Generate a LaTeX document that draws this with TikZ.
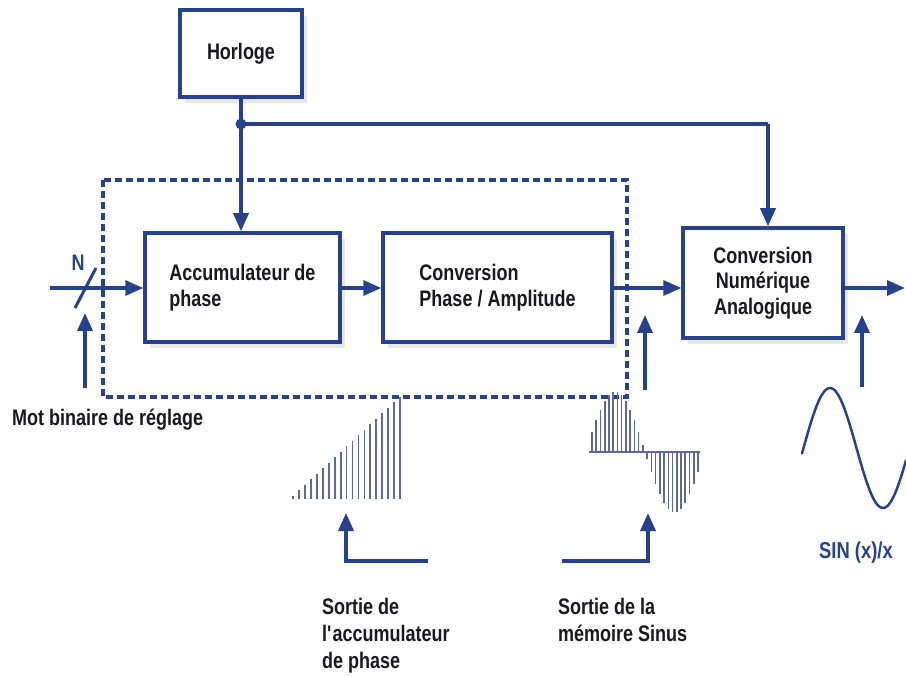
\documentclass[tikz,border=0pt]{standalone}
\usepackage{fontspec}
\setmainfont{Liberation Sans}[FakeStretch=0.8]
\usetikzlibrary{arrows.meta,shadows}
\definecolor{dblue}{RGB}{38,66,140}
\definecolor{stemc}{RGB}{95,105,150}
\definecolor{txt}{RGB}{25,25,30}
\begin{document}
\begin{tikzpicture}[x=1pt,y=-1pt,
  box/.style={draw=dblue,line width=3.5pt,fill=white,inner sep=0pt,
    font=\bfseries\fontsize{22.5}{25.5}\selectfont,text=txt,
    drop shadow={opacity=0.18,shadow xshift=5pt,shadow yshift=-6pt}},
  conn/.style={draw=dblue,line width=3.5pt,-{Triangle[length=18pt,width=15pt]}},
  plain/.style={draw=dblue,line width=3.5pt},
  lbl/.style={font=\bfseries\fontsize{22.5}{27}\selectfont,text=txt,align=left,inner sep=0pt},
  stembar/.style={draw=stemc,line width=1.8pt}]
\useasboundingbox (0,0) rectangle (906,676);
% dashed frame
\draw[dblue,line width=4pt,dash pattern=on 7pt off 4pt] (103,180) rectangle (627,397);
% boxes
\node[box,minimum width=122pt,minimum height=87pt] (hor) at (241,53.5) {Horloge};
\node[box,minimum width=195pt,minimum height=109pt,align=left] (acc) at (242.5,287.5) {Accumulateur de\\phase};
\node[box,minimum width=229pt,minimum height=109pt,align=left] (cpa) at (497.5,287.5) {Conversion\\Phase / Amplitude};
\node[box,minimum width=160pt,minimum height=110pt,align=center] (cna) at (763,283) {Conversion\\Numérique\\Analogique};
% clock distribution
\coordinate (j) at (241,124);
\coordinate (k) at ([xshift=5pt]cna.north);
\draw[conn] (hor.south) -- (hor.south |- acc.north);
\draw[plain] (j) -- (j -| k);
\draw[conn] (j -| k) -- (k);
\fill[dblue] (j) circle (5.5pt);
% data path
\coordinate (in) at (50,288);
\draw[conn] (in) -- (acc.west |- in);
\draw[conn] (acc.east |- in) -- (cpa.west |- in);
\draw[conn] (cpa.east |- in) -- (cna.west |- in);
\coordinate (out) at (905,288);
\draw[conn] (cna.east |- in) -- (out);
% bus slash and N
\coordinate (s1) at (75,308);
\coordinate (s2) at (96,268);
\draw[dblue,line width=3pt] (s1) -- (s2);
\node[font=\bfseries\fontsize{22.5}{26}\selectfont,text=dblue] (n) at (78,263) {N};
% upward arrows
\coordinate (m0) at (85,388); \coordinate (m1) at (85,313);
\draw[conn] (m0) -- (m1);
\node[lbl,anchor=base west] (mot) at (12,426) {Mot binaire de réglage};
\coordinate (p0) at (645,390); \coordinate (p1) at (645,315);
\draw[conn] (p0) -- (p1);
\coordinate (q0) at (862,387); \coordinate (q1) at (862,315);
\draw[conn] (q0) -- (q1);
% ramp samples
\foreach \i in {0,...,18}
  \draw[stembar] ({293+5.95*\i},499) -- ({293+5.95*\i},{499-108*(\i+0.6)/19.6});
% sine samples
\draw[stemc,line width=1.4pt] (589,452) -- (700,452);
\foreach \i in {0,...,25}
  \draw[stembar,line width=1.6pt] ({592+4.24*\i},452) -- ({592+4.24*\i},{452-60*sin(360*(\i+1.5)/28)});
% analog sine
\draw[dblue,line width=2.5pt,line cap=round] plot[domain=802:906,samples=80,smooth] (\x,{448-60*cos(180*(\x-830)/53)});
\node[font=\bfseries\fontsize{23}{26}\selectfont,text=dblue] (sin) at (856,553) {SIN (x)/x};
% L-shaped pointers
\coordinate (a0) at (428,561); \coordinate (a1) at (346,561); \coordinate (a2) at (346,513);
\draw[conn] (a0) -- (a1) -- (a2);
\coordinate (b0) at (562,561); \coordinate (b1) at (648,561); \coordinate (b2) at (648,513);
\draw[conn] (b0) -- (b1) -- (b2);
% bottom labels
\node[lbl,anchor=north west] (l1) at (322,598) {Sortie de\\l\textquotesingle accumulateur\\de phase};
\node[lbl,anchor=north west] (l2) at (558,598) {Sortie de la\\mémoire Sinus};
\end{tikzpicture}
\end{document}
